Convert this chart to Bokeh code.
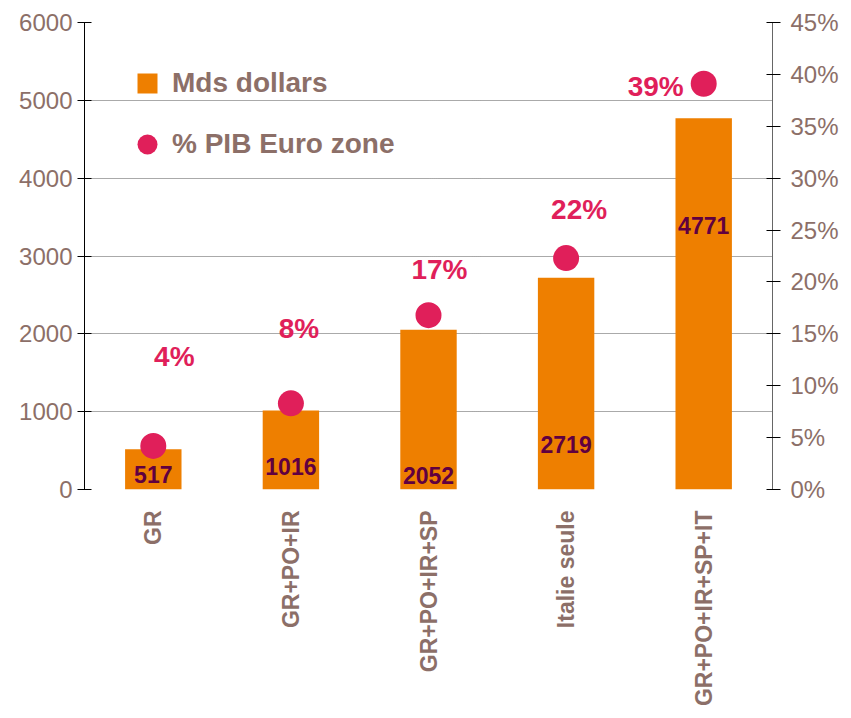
from bokeh.plotting import figure
from bokeh.models import (Range1d, FactorRange, LinearAxis, FixedTicker, PrintfTickFormatter,
                          NumeralTickFormatter, ColumnDataSource, Legend, LegendItem)
from bokeh.core.properties import value
from bokeh.embed import file_html
from bokeh.resources import INLINE
import math

# ---- data ----
categories = ["GR", "GR+PO+IR", "GR+PO+IR+SP", "Italie seule", "GR+PO+IR+SP+IT"]
mds_dollars = [517, 1016, 2052, 2719, 4771]
pct_pib = [4.2, 8.3, 16.8, 22.3, 39.1]
pct_labels = ["4%", "8%", "17%", "22%", "39%"]
left_ticks = [0, 1000, 2000, 3000, 4000, 5000, 6000]
right_ticks = [0, 5, 10, 15, 20, 25, 30, 35, 40, 45]

# ---- label placement (screen px offsets) ----
bar_label_dy = [-15, -23, -14, -45, -264]
pct_label_dx = [21, 8, 11, 13, -48]
pct_label_dy = [-89, -75, -46, -49, 3]

ORANGE = "#EE7F00"
PINK = "#E01F5A"
TXT = "#8C6F68"
PURPLE = "#600040"
FONT = "Liberation Sans"

p = figure(width=843, height=716, x_range=FactorRange(*categories), y_range=Range1d(0, 6000),
           output_backend="svg", toolbar_location=None,
           min_border_left=84, min_border_right=71, min_border_top=22, min_border_bottom=227)
p.extra_y_ranges = {"pct": Range1d(0, 45)}
p.outline_line_color = None
p.background_fill_color = "white"
p.border_fill_color = "white"

src = ColumnDataSource(dict(cat=categories, val=mds_dollars, pct=pct_pib, plab=pct_labels,
                            blab=[str(v) for v in mds_dollars], zero=[0] * len(categories),
                            bdy=bar_label_dy, pdx=pct_label_dx, pdy=pct_label_dy))

p.vbar(x="cat", top="val", width=0.41, source=src, fill_color=ORANGE, line_color=None)
circ = p.scatter(x="cat", y="pct", y_range_name="pct", size=26, marker="circle", source=src,
                 fill_color=PINK, line_color=None)
p.text(x="cat", y="zero", text="blab", y_offset="bdy", source=src, text_align="center",
       text_baseline="middle", text_font=value(FONT), text_font_style="bold",
       text_font_size="23px", text_color=PURPLE)
p.text(x="cat", y="pct", y_range_name="pct", text="plab", x_offset="pdx", y_offset="pdy", source=src,
       text_align="center", text_baseline="middle", text_font=value(FONT), text_font_style="bold",
       text_font_size="28px", text_color=PINK)

# grid
p.xgrid.grid_line_color = None
p.ygrid.ticker = FixedTicker(ticks=left_ticks)
p.ygrid.grid_line_color = "#555555"
p.ygrid.grid_line_dash = "1 1"
p.ygrid.grid_line_width = 1

# left axis
ly = p.yaxis[0]
ly.ticker = FixedTicker(ticks=left_ticks)
ly.formatter = NumeralTickFormatter(format="0")
ly.axis_line_color = "#000000"
ly.major_tick_line_color = "#000000"
ly.major_tick_in = 7
ly.major_tick_out = 7
ly.minor_tick_line_color = None
ly.major_label_standoff = 5
ly.major_label_text_font = FONT
ly.major_label_text_font_size = "24px"
ly.major_label_text_color = TXT

# right axis
ry = LinearAxis(y_range_name="pct", ticker=FixedTicker(ticks=right_ticks),
                formatter=PrintfTickFormatter(format="%d%%"))
ry.axis_line_color = "#666666"
ry.major_tick_line_color = "#000000"
ry.major_tick_in = 6
ry.major_tick_out = 8
ry.minor_tick_line_color = None
ry.major_label_standoff = 10
ry.major_label_text_font = FONT
ry.major_label_text_font_size = "24px"
ry.major_label_text_color = TXT
p.add_layout(ry, "right")

# bottom axis
bx = p.xaxis[0]
bx.axis_line_color = None
bx.major_tick_line_color = None
bx.major_tick_out = 0
bx.major_tick_in = 0
bx.minor_tick_line_color = None
bx.major_label_orientation = math.pi / 2
bx.major_label_standoff = 21
bx.major_label_text_font = FONT
bx.major_label_text_font_style = "bold"
bx.major_label_text_font_size = "23px"
bx.major_label_text_color = TXT

# legend (square swatch renderer for the bar series; its single point is not drawn)
sq_src = ColumnDataSource(dict(x=[categories[0]], y=[float("nan")]))
sq = p.scatter(x="x", y="y", source=sq_src, marker="square", size=20, fill_color=ORANGE, line_color=None)
legend = Legend(items=[LegendItem(label="Mds dollars", renderers=[sq]),
                       LegendItem(label="% PIB Euro zone", renderers=[circ])],
                location=(38, 320), orientation="vertical",
                glyph_width=50, glyph_height=50, label_standoff=-8, spacing=11,
                padding=0, margin=0, border_line_color=None, background_fill_alpha=0,
                label_text_font=FONT, label_text_font_style="bold", label_text_font_size="28px",
                label_text_color=TXT, label_text_baseline="middle")
p.add_layout(legend)

open("out.html", "w").write(file_html(p, INLINE))
